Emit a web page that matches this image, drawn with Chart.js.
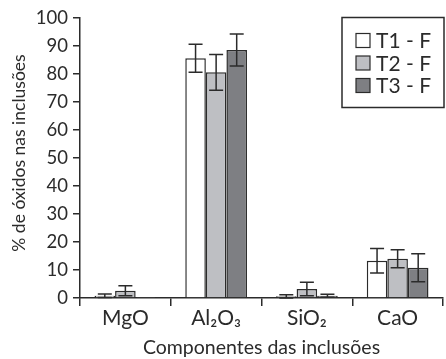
<!DOCTYPE html>
<html><head><meta charset="utf-8">
<script src="https://cdn.jsdelivr.net/npm/chart.js@4"></script>
<style>html,body{margin:0;padding:0;background:#fff}#wrap{width:446px;height:359px}</style>
</head><body><div id="wrap"><canvas id="c" width="446" height="359"></canvas></div>
<script>
const categories = ["MgO", "Al\u2082O\u2083", "SiO\u2082", "CaO"];
const seriesNames = ["T1 - F", "T2 - F", "T3 - F"];
const t1Values = [0.8, 85.6, 0.6, 13.3];
const t2Values = [2.6, 80.6, 3.2, 14.0];
const t3Values = [0.1, 88.6, 0.8, 10.8];
const t1Errors = [0.6, 5.0, 0.6, 4.4];
const t2Errors = [1.8, 6.4, 2.4, 3.2];
const t3Errors = [0, 5.7, 0.5, 5.0];
const yTicks = [0, 10, 20, 30, 40, 50, 60, 70, 80, 90, 100];
const yTitle = "% de óxidos nas inclusões";

const FONT = "Lato, 'Open Sans', sans-serif";
const INK = "#2b2b2b";
const fills = ["#ffffff", "#bebfc3", "#7e7f83"];

const errorBars = {
  id: "errorBars",
  afterDatasetsDraw(chart) {
    const ctx = chart.ctx, y = chart.scales.y;
    const errs = [t1Errors, t2Errors, t3Errors];
    ctx.save();
    ctx.strokeStyle = INK; ctx.lineWidth = 1.5;
    chart.data.datasets.forEach((ds, di) => {
      const meta = chart.getDatasetMeta(di);
      meta.data.forEach((bar, i) => {
        const e = errs[di][i];
        if (!e) return;
        const v = ds.data[i];
        const top = y.getPixelForValue(v + e), bot = y.getPixelForValue(Math.max(v - e, 0));
        const hw = 7;
        ctx.beginPath();
        ctx.moveTo(bar.x, top); ctx.lineTo(bar.x, bot);
        ctx.moveTo(bar.x - hw, top); ctx.lineTo(bar.x + hw, top);
        ctx.moveTo(bar.x - hw, bot); ctx.lineTo(bar.x + hw, bot);
        ctx.stroke();
      });
    });
    ctx.restore();
  }
};

const boxLegend = {
  id: "boxLegend",
  afterDraw(chart) {
    const ctx = chart.ctx;
    ctx.save();
    // y-axis title
    ctx.save();
    ctx.translate(19, 153);
    ctx.rotate(-Math.PI / 2);
    ctx.font = "17.5px " + FONT;
    ctx.fillStyle = INK;
    ctx.textAlign = "center";
    ctx.textBaseline = "middle";
    ctx.fillText(yTitle, 0, 0);
    ctx.restore();
    // legend
    ctx.strokeStyle = INK; ctx.lineWidth = 1.5;
    ctx.strokeRect(342, 17.5, 102, 90);
    ctx.font = "21px " + FONT;
    ctx.textBaseline = "middle";
    const rows = [40.5, 63, 85.5];
    chart.data.datasets.forEach((ds, i) => {
      ctx.fillStyle = ds.backgroundColor;
      ctx.fillRect(356, rows[i] - 7, 14, 14);
      ctx.lineWidth = 1.2;
      ctx.strokeRect(356, rows[i] - 7, 14, 14);
      ctx.fillStyle = INK;
      ctx.fillText(ds.label, 376, rows[i] + 1);
    });
    ctx.restore();
  }
};

const mk = (i, data) => ({
  label: seriesNames[i], data,
  backgroundColor: fills[i], borderColor: INK, borderWidth: 1.5,
  categoryPercentage: 0.68, barPercentage: 1.0
});

new Chart(document.getElementById("c"), {
  type: "bar",
  data: { labels: categories, datasets: [mk(0, t1Values), mk(1, t2Values), mk(2, t3Values)] },
  options: {
    responsive: false, animation: false,
    layout: { padding: { top: 18, right: 3, left: 0, bottom: 0 } },
    plugins: { legend: { display: false }, tooltip: { enabled: false } },
    scales: {
      x: {
        grid: { display: true, drawOnChartArea: false, drawTicks: true, tickLength: 8, color: INK, lineWidth: 1.5, offset: true },
        border: { color: INK, width: 1.5 },
        ticks: { color: INK, font: { family: FONT, size: 21 }, padding: 0 },
        title: { display: true, text: "Componentes das inclusões", color: INK, font: { family: FONT, size: 19.5 }, padding: { top: 0, bottom: 0 } },
        afterFit(s) { s.height = 61; }
      },
      y: {
        min: 0, max: 100,
        afterBuildTicks(s) { s.ticks = yTicks.map(v => ({ value: v })); },
        grid: { display: true, drawOnChartArea: false, drawTicks: true, tickLength: 7, color: INK, lineWidth: 1.5 },
        border: { color: INK, width: 1.5 },
        ticks: { color: INK, font: { family: FONT, size: 18.5 }, padding: 5 },
        title: { display: false },
        afterFit(s) { s.width = 80; }
      }
    }
  },
  plugins: [errorBars, boxLegend]
});
</script>
</body></html>
